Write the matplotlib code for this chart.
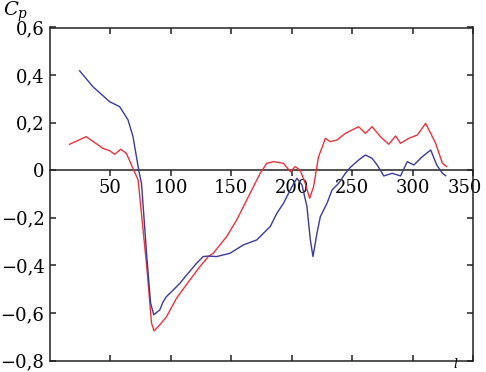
import numpy as np
import matplotlib
matplotlib.use("Agg")
import matplotlib.pyplot as plt
from matplotlib.transforms import ScaledTranslation

plt.rcParams['font.family'] = ['DejaVu Serif']
plt.rcParams['mathtext.fontset'] = 'dejavuserif'

# blue curve
blue_x = [24.5, 35.5, 49.4, 57.7, 64.6, 68.7, 71.5, 73.4, 75.7, 80.3, 83.2, 85.9,
          90.9, 93.6, 96.4, 101.9, 107.5, 113.0, 121.3, 126.8, 131.0, 137.9, 149.0,
          160.0, 171.1, 179.4, 182.2, 187.7, 193.2, 200.2, 204.3, 208.5, 212.6,
          215.4, 217.6, 220.9, 223.7, 229.2, 233.4, 238.8, 244.4, 248.5, 255.4,
          261.0, 266.5, 270.7, 276.2, 283.2, 290.0, 295.6, 301.1, 308.1, 315.0,
          320.0, 324.7, 327.4]
blue_y = [0.418, 0.351, 0.288, 0.267, 0.211, 0.141, 0.057, 0.0, -0.055, -0.377,
          -0.558, -0.608, -0.587, -0.553, -0.531, -0.504, -0.475, -0.441, -0.391,
          -0.363, -0.361, -0.363, -0.349, -0.314, -0.293, -0.251, -0.237, -0.181,
          -0.139, -0.069, -0.034, -0.062, -0.153, -0.293, -0.363, -0.265, -0.195,
          -0.139, -0.083, -0.055, -0.013, 0.012, 0.043, 0.064, 0.050, 0.022,
          -0.024, -0.013, -0.024, 0.036, 0.022, 0.057, 0.085, 0.022, -0.013, -0.023]

# red curve
red_x = [16.2, 30.0, 43.8, 49.4, 53.5, 58.5, 63.2, 67.4, 69.3, 72.9, 80.3, 84.0,
         86.1, 90.9, 96.4, 104.7, 115.8, 124.1, 131.0, 135.1, 146.2, 154.5, 162.8,
         169.7, 173.9, 179.4, 184.9, 193.2, 198.8, 202.9, 207.0, 211.2, 214.8,
         218.1, 222.2, 226.4, 227.8, 232.0, 237.5, 244.4, 255.4, 261.0, 266.5,
         273.4, 280.3, 286.0, 290.0, 296.9, 303.9, 310.8, 315.0, 319.1, 324.7, 328.2]
red_y = [0.109, 0.141, 0.092, 0.082, 0.067, 0.088, 0.071, 0.022, 0.0, -0.041,
         -0.419, -0.643, -0.676, -0.650, -0.616, -0.538, -0.461, -0.405, -0.363,
         -0.349, -0.279, -0.209, -0.125, -0.055, -0.013, 0.029, 0.036, 0.029,
         -0.006, 0.015, 0.0, -0.055, -0.118, -0.069, 0.057, 0.113, 0.134, 0.120,
         0.127, 0.155, 0.183, 0.155, 0.183, 0.141, 0.109, 0.144, 0.113, 0.134,
         0.148, 0.197, 0.155, 0.113, 0.029, 0.015]

x_ticks = [50, 100, 150, 200, 250, 300, 350]
y_ticks = [-0.8, -0.6, -0.4, -0.2, 0, 0.2, 0.4, 0.6]
y_labels = ['\u22120,8', '\u22120,6', '\u22120,4', '\u22120,2', '0', '0,2', '0,4', '0,6']

fig = plt.figure(figsize=(4.86, 3.72), dpi=100)
ax = fig.add_axes([50 / 486, 11.5 / 372, 423 / 486, 333 / 372])

ax.plot(red_x, red_y, color='#e8343f', lw=1.0)
ax.plot(blue_x, blue_y, color='#3b3b9b', lw=1.0)

ax.set_xlim(0, 350)
ax.set_ylim(-0.8, 0.6)

for s in ax.spines.values():
    s.set_linewidth(1.1)
    s.set_color('#222222')

ax.set_xticks(x_ticks)
ax.set_yticks(y_ticks)
ax.set_yticklabels(y_labels)
ax.tick_params(axis='x', direction='in', top=True, bottom=True,
               labelbottom=False, length=4, width=1.1, color='#222222')
ax.tick_params(axis='y', direction='in', left=True, right=True,
               length=4, width=1.1, color='#222222', labelsize=13, pad=4)

# zero line with the x labels under it
sec = ax.secondary_xaxis(0.8 / 1.4)
sec.set_alignment('bottom')
sec.set_xticks(x_ticks)
sec.spines['bottom'].set_linewidth(1.1)
sec.spines['bottom'].set_color('#222222')
sec.tick_params(axis='x', direction='out', length=4, width=1.1,
                color='#222222', labelsize=13, pad=2)
# nudge the last label so it stays inside the figure
last = sec.xaxis.get_major_ticks()[-1].label1
last.set_transform(last.get_transform() + ScaledTranslation(-6 / 72, 0, fig.dpi_scale_trans))

fig.text(3 / 486, 1 - 16 / 372, r'$C_p$', fontsize=14, va='baseline', ha='left')
fig.text(453 / 486, 0.5 / 372, r'$l$', fontsize=9, va='bottom', ha='left')

fig.savefig('out.png', dpi=100)
